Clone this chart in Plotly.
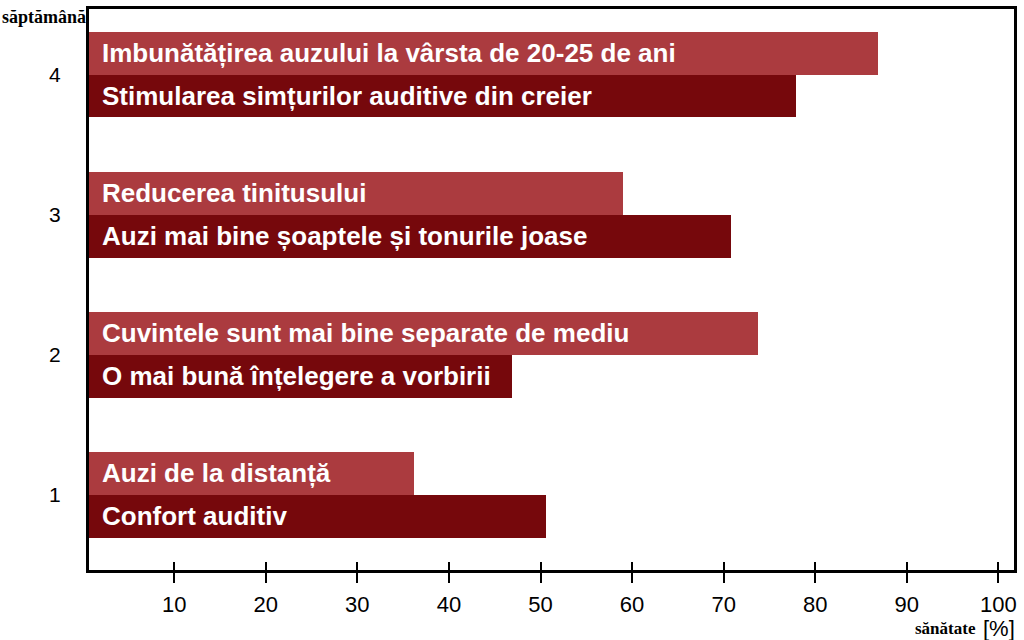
import plotly.graph_objects as go

weeks = [1, 2, 3, 4]
upper_labels = ["Auzi de la distanță",
                "Cuvintele sunt mai bine separate de mediu",
                "Reducerea tinitusului",
                "Imbunătățirea auzului la vârsta de 20-25 de ani"]
upper_values = [36.2, 73.8, 59.0, 86.8]
lower_labels = ["Confort auditiv",
                "O mai bună înțelegere a vorbirii",
                "Auzi mai bine șoaptele și tonurile joase",
                "Stimularea simțurilor auditive din creier"]
lower_values = [50.6, 46.9, 70.8, 77.9]
x_ticks = [10, 20, 30, 40, 50, 60, 70, 80, 90, 100]

X_MIN, X_MAX = 0.7, 101.7
OFF = 0.153
BW = 0.305
LIGHT = "#ab3b3f"
DARK = "#76080c"

y_up = [w + OFF for w in weeks]
y_lo = [w - OFF for w in weeks]

fig = go.Figure()
fig.add_trace(go.Bar(y=y_up, x=[v - X_MIN for v in upper_values], base=X_MIN,
                     orientation="h", width=BW, marker=dict(color=LIGHT, line=dict(width=0)),
                     hoverinfo="skip", showlegend=False))
fig.add_trace(go.Bar(y=y_lo, x=[v - X_MIN for v in lower_values], base=X_MIN,
                     orientation="h", width=BW, marker=dict(color=DARK, line=dict(width=0)),
                     hoverinfo="skip", showlegend=False))

annots = []
for yy, t in list(zip(y_up, upper_labels)) + list(zip(y_lo, lower_labels)):
    annots.append(dict(x=X_MIN, y=yy, xref="x", yref="y", text=t, showarrow=False,
                       xanchor="left", yanchor="middle", xshift=11,
                       font=dict(family="Liberation Sans, Arial", size=26, color="white",
                                 weight="bold")))

annots.append(dict(x=-0.096, y=0.986, xref="paper", yref="paper", text="<b>săptămână</b>",
                   showarrow=False, xanchor="left", yanchor="middle",
                   font=dict(family="Liberation Serif, Times New Roman", size=18, color="black")))
annots.append(dict(x=0.961, y=-0.104, xref="paper", yref="paper", text="<b>sănătate</b>",
                   showarrow=False, xanchor="right", yanchor="middle",
                   font=dict(family="Liberation Serif, Times New Roman", size=17, color="black")))
annots.append(dict(x=1.003, y=-0.104, xref="paper", yref="paper", text="[%]",
                   showarrow=False, xanchor="right", yanchor="middle",
                   font=dict(family="Liberation Sans, Arial", size=22, color="black")))

fig.update_layout(
    width=1024, height=640,
    margin=dict(l=89, r=10, t=6, b=70),
    paper_bgcolor="white", plot_bgcolor="white",
    barmode="overlay",
    bargap=0,
    annotations=annots,
    xaxis=dict(range=[X_MIN, X_MAX], tickvals=x_ticks, ticktext=[str(v) for v in x_ticks],
               ticks="outside", ticklen=10, tickwidth=2, tickcolor="black",
               showline=True, linewidth=3, linecolor="black", mirror=True,
               showgrid=False, zeroline=False,
               tickfont=dict(family="Liberation Sans, Arial", size=22, color="black"),
               ticklabelstandoff=3),
    xaxis2=dict(range=[X_MIN, X_MAX], overlaying="x", matches="x", side="bottom",
                tickvals=x_ticks, ticks="inside", ticklen=8, tickwidth=2, tickcolor="black",
                showticklabels=False, showline=False, showgrid=False, zeroline=False),
    yaxis=dict(range=[0.464, 4.469], tickvals=weeks, ticktext=[str(w) for w in weeks],
               ticks="", showline=True, linewidth=3, linecolor="black", mirror=True,
               showgrid=False, zeroline=False, ticklabelstandoff=21,
               tickfont=dict(family="Liberation Sans, Arial", size=21, color="black")),
)
# invisible trace to render the second x-axis ticks
fig.add_trace(go.Scatter(x=[X_MIN], y=[1], xaxis="x2", mode="markers",
                         marker=dict(opacity=0), hoverinfo="skip", showlegend=False))

fig.write_html("out.html")
